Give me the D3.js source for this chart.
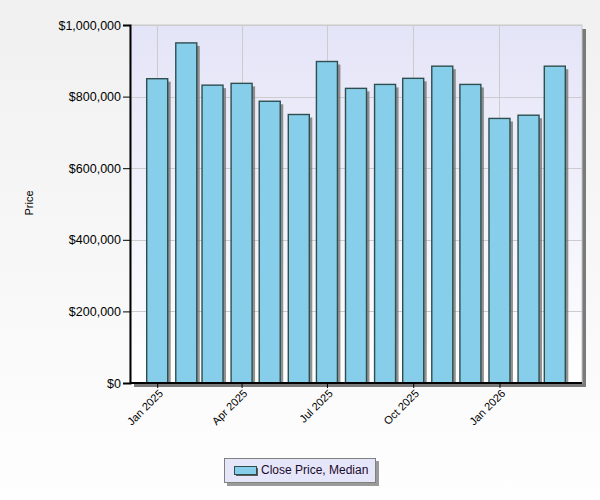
<!DOCTYPE html>
<html>
<head>
<meta charset="utf-8">
<script src="https://cdn.jsdelivr.net/npm/d3@7"></script>
<style>
  html, body { margin: 0; padding: 0; }
  svg { display: block; font-family: "Liberation Sans", Arial, sans-serif; }
</style>
</head>
<body>
<svg id="chart" width="600" height="500"></svg>
<script>
// ---- data ----
const months = ["2025-01","2025-02","2025-03","2025-04","2025-05","2025-06","2025-07","2025-08","2025-09","2025-10","2025-11","2025-12","2026-01","2026-02","2026-03"];
const medianPrice = [850000, 950000, 832000, 837000, 787000, 750000, 898000, 823000, 834000, 851000, 885000, 834000, 739000, 748000, 885000];
const yTicks = [0, 200000, 400000, 600000, 800000, 1000000];
const xTickLabels = ["Jan 2025", "Apr 2025", "Jul 2025", "Oct 2025", "Jan 2026"];
const xTickMonths = ["2025-01", "2025-04", "2025-07", "2025-10", "2026-01"];
const seriesName = "Close Price, Median";
const yTitle = "Price";

// ---- layout ----
const W = 600, H = 500;
const plot = { left: 130, top: 25, right: 582, bottom: 383 };
const parse = d3.timeParse("%Y-%m");
const dates = months.map(parse);
const tickDates = xTickMonths.map(parse);

const svg = d3.select("#chart");
const defs = svg.append("defs");

const bg = defs.append("linearGradient").attr("id", "bg").attr("x1", 0).attr("y1", 0).attr("x2", 0).attr("y2", 1);
bg.append("stop").attr("offset", "0%").attr("stop-color", "#f0f0f0");
bg.append("stop").attr("offset", "100%").attr("stop-color", "#fefefe");

const pg = defs.append("linearGradient").attr("id", "pg").attr("x1", 0).attr("y1", 0).attr("x2", 0).attr("y2", 1);
pg.append("stop").attr("offset", "0%").attr("stop-color", "#e4e4f8");
pg.append("stop").attr("offset", "100%").attr("stop-color", "#ffffff");

svg.append("rect").attr("width", W).attr("height", H).attr("fill", "url(#bg)");

const x = d3.scaleTime()
  .domain([d3.timeDay.offset(dates[0], -29), d3.timeDay.offset(dates[dates.length - 1], 29)])
  .range([plot.left, plot.right]);
const y = d3.scaleLinear().domain([0, 1000000]).range([plot.bottom, plot.top]);

// plot shadow
svg.append("rect")
  .attr("x", plot.left + 4).attr("y", plot.top + 4)
  .attr("width", plot.right - plot.left).attr("height", plot.bottom - plot.top)
  .attr("fill", "#7a7a7a");
// plot background
svg.append("rect")
  .attr("x", plot.left).attr("y", plot.top)
  .attr("width", plot.right - plot.left).attr("height", plot.bottom - plot.top)
  .attr("fill", "url(#pg)")
  .attr("stroke", "#c8c8c8").attr("stroke-width", 1);

// grid
const grid = svg.append("g");
grid.selectAll("line.h").data(yTicks.slice(1)).join("line")
  .attr("x1", plot.left).attr("x2", plot.right)
  .attr("y1", d => Math.round(y(d)) + 0.5).attr("y2", d => Math.round(y(d)) + 0.5)
  .attr("stroke", "#cccccc").attr("stroke-width", 1);
grid.selectAll("line.v").data(tickDates).join("line")
  .attr("x1", d => Math.round(x(d)) + 0.5).attr("x2", d => Math.round(x(d)) + 0.5)
  .attr("y1", plot.top).attr("y2", plot.bottom)
  .attr("stroke", "#cccccc").attr("stroke-width", 1);

// bars
const barW = 21;
const bars = svg.append("g");
bars.selectAll("rect.sh").data(medianPrice).join("rect")
  .attr("x", (d, i) => x(dates[i]) - barW / 2 + 3)
  .attr("y", d => y(d) + 3)
  .attr("width", barW).attr("height", d => plot.bottom - y(d) - 3)
  .attr("fill", "#6e6e6e").attr("opacity", 0.75);
bars.selectAll("rect.b").data(medianPrice).join("rect")
  .attr("x", (d, i) => x(dates[i]) - barW / 2)
  .attr("y", d => y(d))
  .attr("width", barW).attr("height", d => plot.bottom - y(d))
  .attr("fill", "#87ceeb")
  .attr("stroke", "#2f4f4f").attr("stroke-width", 1.4);

// y axis
const yAxis = svg.append("g").attr("transform", `translate(${plot.left},0)`)
  .call(d3.axisLeft(y).tickValues(yTicks).tickSize(7).tickPadding(2)
    .tickFormat(d => "$" + d3.format(",")(d)));
yAxis.select(".domain").attr("stroke", "#000").attr("stroke-width", 2);
yAxis.selectAll(".tick line").attr("stroke", "#000");
yAxis.selectAll("text").attr("font-size", "12.5px").attr("fill", "#000")
  .attr("font-family", "'Liberation Sans', Arial, sans-serif");

// x axis
const xAxis = svg.append("g").attr("transform", `translate(0,${plot.bottom})`)
  .call(d3.axisBottom(x).tickValues(tickDates).tickSize(5)
    .tickFormat((d, i) => xTickLabels[i]));
xAxis.select(".domain").attr("stroke", "#000").attr("stroke-width", 2)
  .attr("d", `M${plot.left},0H${plot.right}`);
xAxis.selectAll(".tick line").attr("stroke", "#000");
xAxis.selectAll("text")
  .attr("font-size", "11px").attr("fill", "#000")
  .attr("font-family", "'Liberation Sans', Arial, sans-serif")
  .attr("text-anchor", "end")
  .attr("dy", null).attr("y", null)
  .attr("transform", "translate(4,9) rotate(-45)")
  .attr("dominant-baseline", "middle");

// y title
svg.append("text")
  .attr("transform", "translate(33,203) rotate(-90)")
  .attr("text-anchor", "middle")
  .attr("font-size", "11px").attr("fill", "#000")
  .text(yTitle);

// legend
const lg = svg.append("g").attr("transform", "translate(224,458)");
lg.append("rect").attr("x", 3).attr("y", 3).attr("width", 152).attr("height", 25).attr("fill", "#9a9a9a");
lg.append("rect").attr("x", 0.5).attr("y", 0.5).attr("width", 151).attr("height", 24)
  .attr("fill", "#e6e6fa").attr("stroke", "#808080").attr("stroke-width", 1);
lg.append("rect").attr("x", 12).attr("y", 10).attr("width", 22).attr("height", 8).attr("fill", "#5a5a5a");
lg.append("rect").attr("x", 10.5).attr("y", 8.5).attr("width", 22).attr("height", 8)
  .attr("fill", "#87ceeb").attr("stroke", "#2f4f4f").attr("stroke-width", 1);
lg.append("text").attr("x", 37).attr("y", 13).attr("dominant-baseline", "middle")
  .attr("font-size", "12px").attr("fill", "#1a0a2a").text(seriesName);
</script>
</body>
</html>
